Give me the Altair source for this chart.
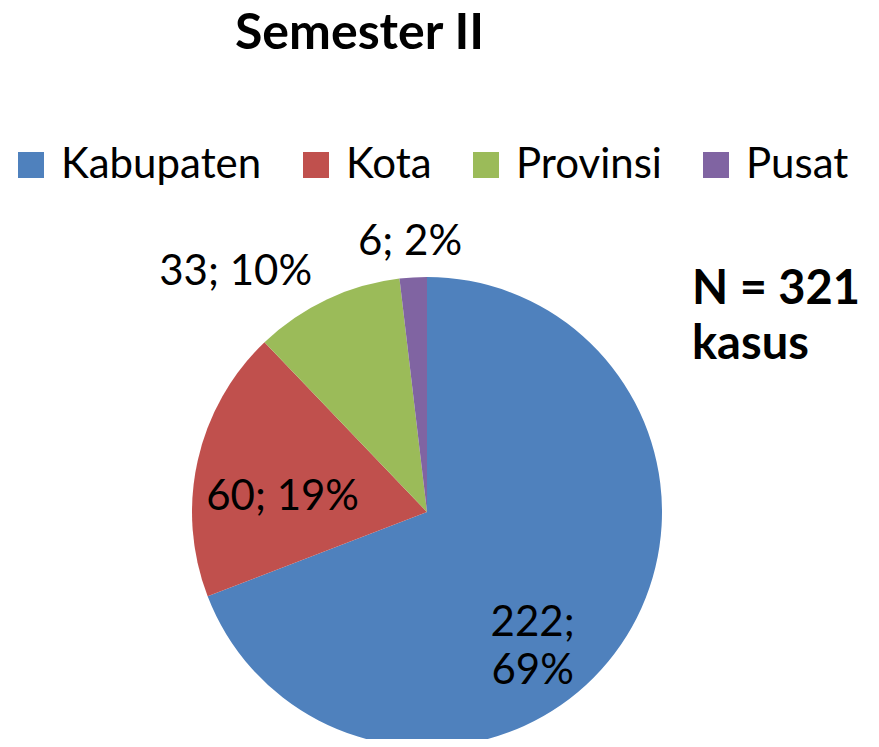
import altair as alt
import pandas as pd

categories = ["Kabupaten", "Kota", "Provinsi", "Pusat"]
counts = [222, 60, 33, 6]
colors = ["#4F81BD", "#C0504D", "#9BBB59", "#8064A2"]
title_text = "Semester II"
note_word = "kasus"

df = pd.DataFrame({"kategori": categories, "jumlah": counts,
                   "urut": list(range(len(categories)))})

FONT = "Lato"
R = 235
CX, CY = 235, 235

base = alt.Chart(df)

color = alt.Color(
    "kategori:N",
    scale=alt.Scale(domain=categories, range=colors),
    legend=alt.Legend(
        orient="none", legendX=-182, legendY=-133, direction="horizontal",
        columns=4, title=None, symbolType="square", symbolSize=676,
        symbolStrokeWidth=0, symbolOpacity=1, labelFont=FONT, labelFontSize=42,
        labelColor="black", labelOffset=9, columnPadding=33, labelLimit=500,
        padding=0,
    ),
)

pie = base.mark_arc(outerRadius=R).encode(
    theta=alt.Theta("jumlah:Q", stack=True),
    color=color,
    order=alt.Order("urut:Q", sort="ascending"),
    x=alt.value(CX),
    y=alt.value(CY),
)


def label_layer(cat, radius, dx, dy, sep):
    return (
        base.transform_joinaggregate(total="sum(jumlah)")
        .transform_window(cum="sum(jumlah)",
                          sort=[alt.SortField("urut", order="ascending")],
                          frame=[None, 0])
        .transform_calculate(
            mid="(datum.cum - datum.jumlah/2)/datum.total",
            label="datum.jumlah + ';" + sep + "' + format(datum.jumlah/datum.total, '.0%')",
        )
        .transform_filter(alt.datum.kategori == cat)
        .mark_text(radius=radius, dx=dx, dy=dy, font=FONT, fontSize=42,
                   color="black", lineBreak="\n", lineHeight=48)
        .encode(
            theta=alt.Theta("mid:Q", scale=alt.Scale(domain=[0, 1])),
            text="label:N",
            x=alt.value(CX),
            y=alt.value(CY),
        )
    )


labels = [
    label_layer("Kabupaten", 150, -18, 26, "\\n"),
    label_layer("Kota", 150, 2, 18, " "),
    label_layer("Provinsi", 280, -72, 13, " "),
    label_layer("Pusat", 272, -1, 2, " "),
]

note = (
    base.transform_aggregate(total="sum(jumlah)")
    .transform_calculate(txt="'N = ' + datum.total + '\\n' + '" + note_word + "'")
    .mark_text(align="left", baseline="middle", font=FONT, fontWeight="bold",
               fontSize=47, lineBreak="\n", lineHeight=55, color="black")
    .encode(x=alt.value(500), y=alt.value(13), text="txt:N")
)

chart = (
    alt.layer(pie, *labels, note)
    .resolve_scale(theta="independent")
    .properties(
        width=470,
        height=462,
        autosize=alt.AutoSizeParams(type="none"),
        padding={"left": 184, "top": 269, "right": 209, "bottom": 0},
        title=alt.TitleParams(text=title_text, font=FONT, fontSize=50,
                              fontWeight="bold", anchor="start", frame="group",
                              dx=43, offset=85, color="black"),
    )
    .configure_view(stroke=None)
)

chart.save("out.html", embed_options={"renderer": "svg", "actions": False})
